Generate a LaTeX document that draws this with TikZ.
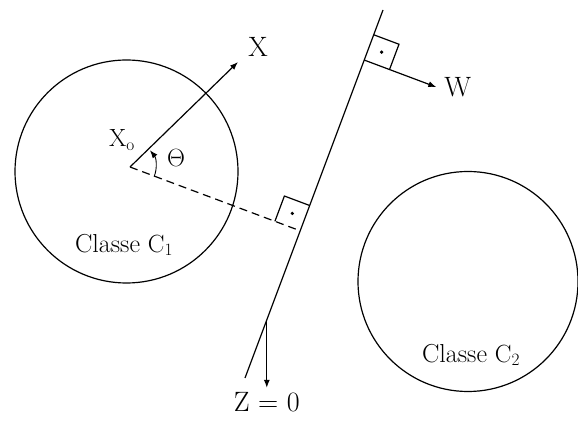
\documentclass[tikz,border=0pt]{standalone}
\usetikzlibrary{calc,arrows.meta}
\begin{document}
\begin{tikzpicture}[x=1pt, y=1pt, line width=1.2pt, >={Latex[length=8pt,width=6pt]},
    lbl/.style={font=\fontsize{23}{27}\selectfont},
    clbl/.style={font=\fontsize{26}{30}\selectfont},
    biglbl/.style={font=\fontsize{28}{32}\selectfont},
    rightangle/.style={line width=1.2pt}]
    \useasboundingbox (0,0) rectangle (578,423);

    % les deux classes
    \draw (126.5,251.5) circle (111.5);
    \draw (468,141.5) circle (110);
    \node[clbl] (classe1) at (124,178) {Classe $\mathrm{C}_1$};
    \node[clbl] (classe2) at (471,68) {Classe $\mathrm{C}_2$};

    % hyperplan Z = 0
    \coordinate (top) at (383,413);
    \coordinate (bot) at (245,45);
    \draw (top) -- (bot);

    % point x0 et vecteur X
    \coordinate (xo) at (130,256);
    \coordinate (xtip) at (238,361);
    \draw[->] (xo) -- (xtip);
    \node[biglbl] (xlab) at (258,376) {X};
    \node[lbl] (xolab) at (122,283) {$\mathrm{X_o}$};

    % distance (pointilles) vers l'hyperplan
    \coordinate (foot) at ($(top)!(xo)!(bot)$);
    \draw[dash pattern=on 8pt off 5pt] (xo) -- (foot);

    % angle theta
    \draw[->, line width=0.9pt] (xo) ++(-22:26) arc[start angle=-22, end angle=40, radius=26];
    \node[lbl] (theta) at (176,265) {$\Theta$};

    % angle droit au pied
    \coordinate (fa) at ($(foot)!27pt!(top)$);
    \coordinate (fb) at ($(foot)!27pt!(xo)$);
    \draw[rightangle] (fa) -- ($(fa)+(fb)-(foot)$) -- (fb);
    \fill ($(fa)!0.5!(fb)$) circle (1.8);

    % vecteur normal W
    \coordinate (wbase) at ($(top)!0.136!(bot)$);
    \coordinate (wa) at ($(wbase)!27pt!(top)$);
    \coordinate (wb) at ($(wbase)!27pt!-90:(top)$);
    \coordinate (wtip) at ($(wbase)!77pt!-90:(top)$);
    \draw[rightangle] (wa) -- ($(wa)+(wb)-(wbase)$) -- (wb);
    \fill ($(wa)!0.5!(wb)$) circle (1.8);
    \draw[->] (wbase) -- (wtip);
    \node[biglbl, right] (wlab) at ($(wtip)+(4,0)$) {W};

    % fleche Z = 0
    \coordinate (zbase) at ($(top)!0.842!(bot)$);
    \coordinate (ztip) at ($(zbase)+(0,-68)$);
    \draw[->] (zbase) -- (ztip);
    \node[biglbl, below] (zlab) at ($(ztip)+(0,-1)$) {Z = 0};
\end{tikzpicture}
\end{document}
